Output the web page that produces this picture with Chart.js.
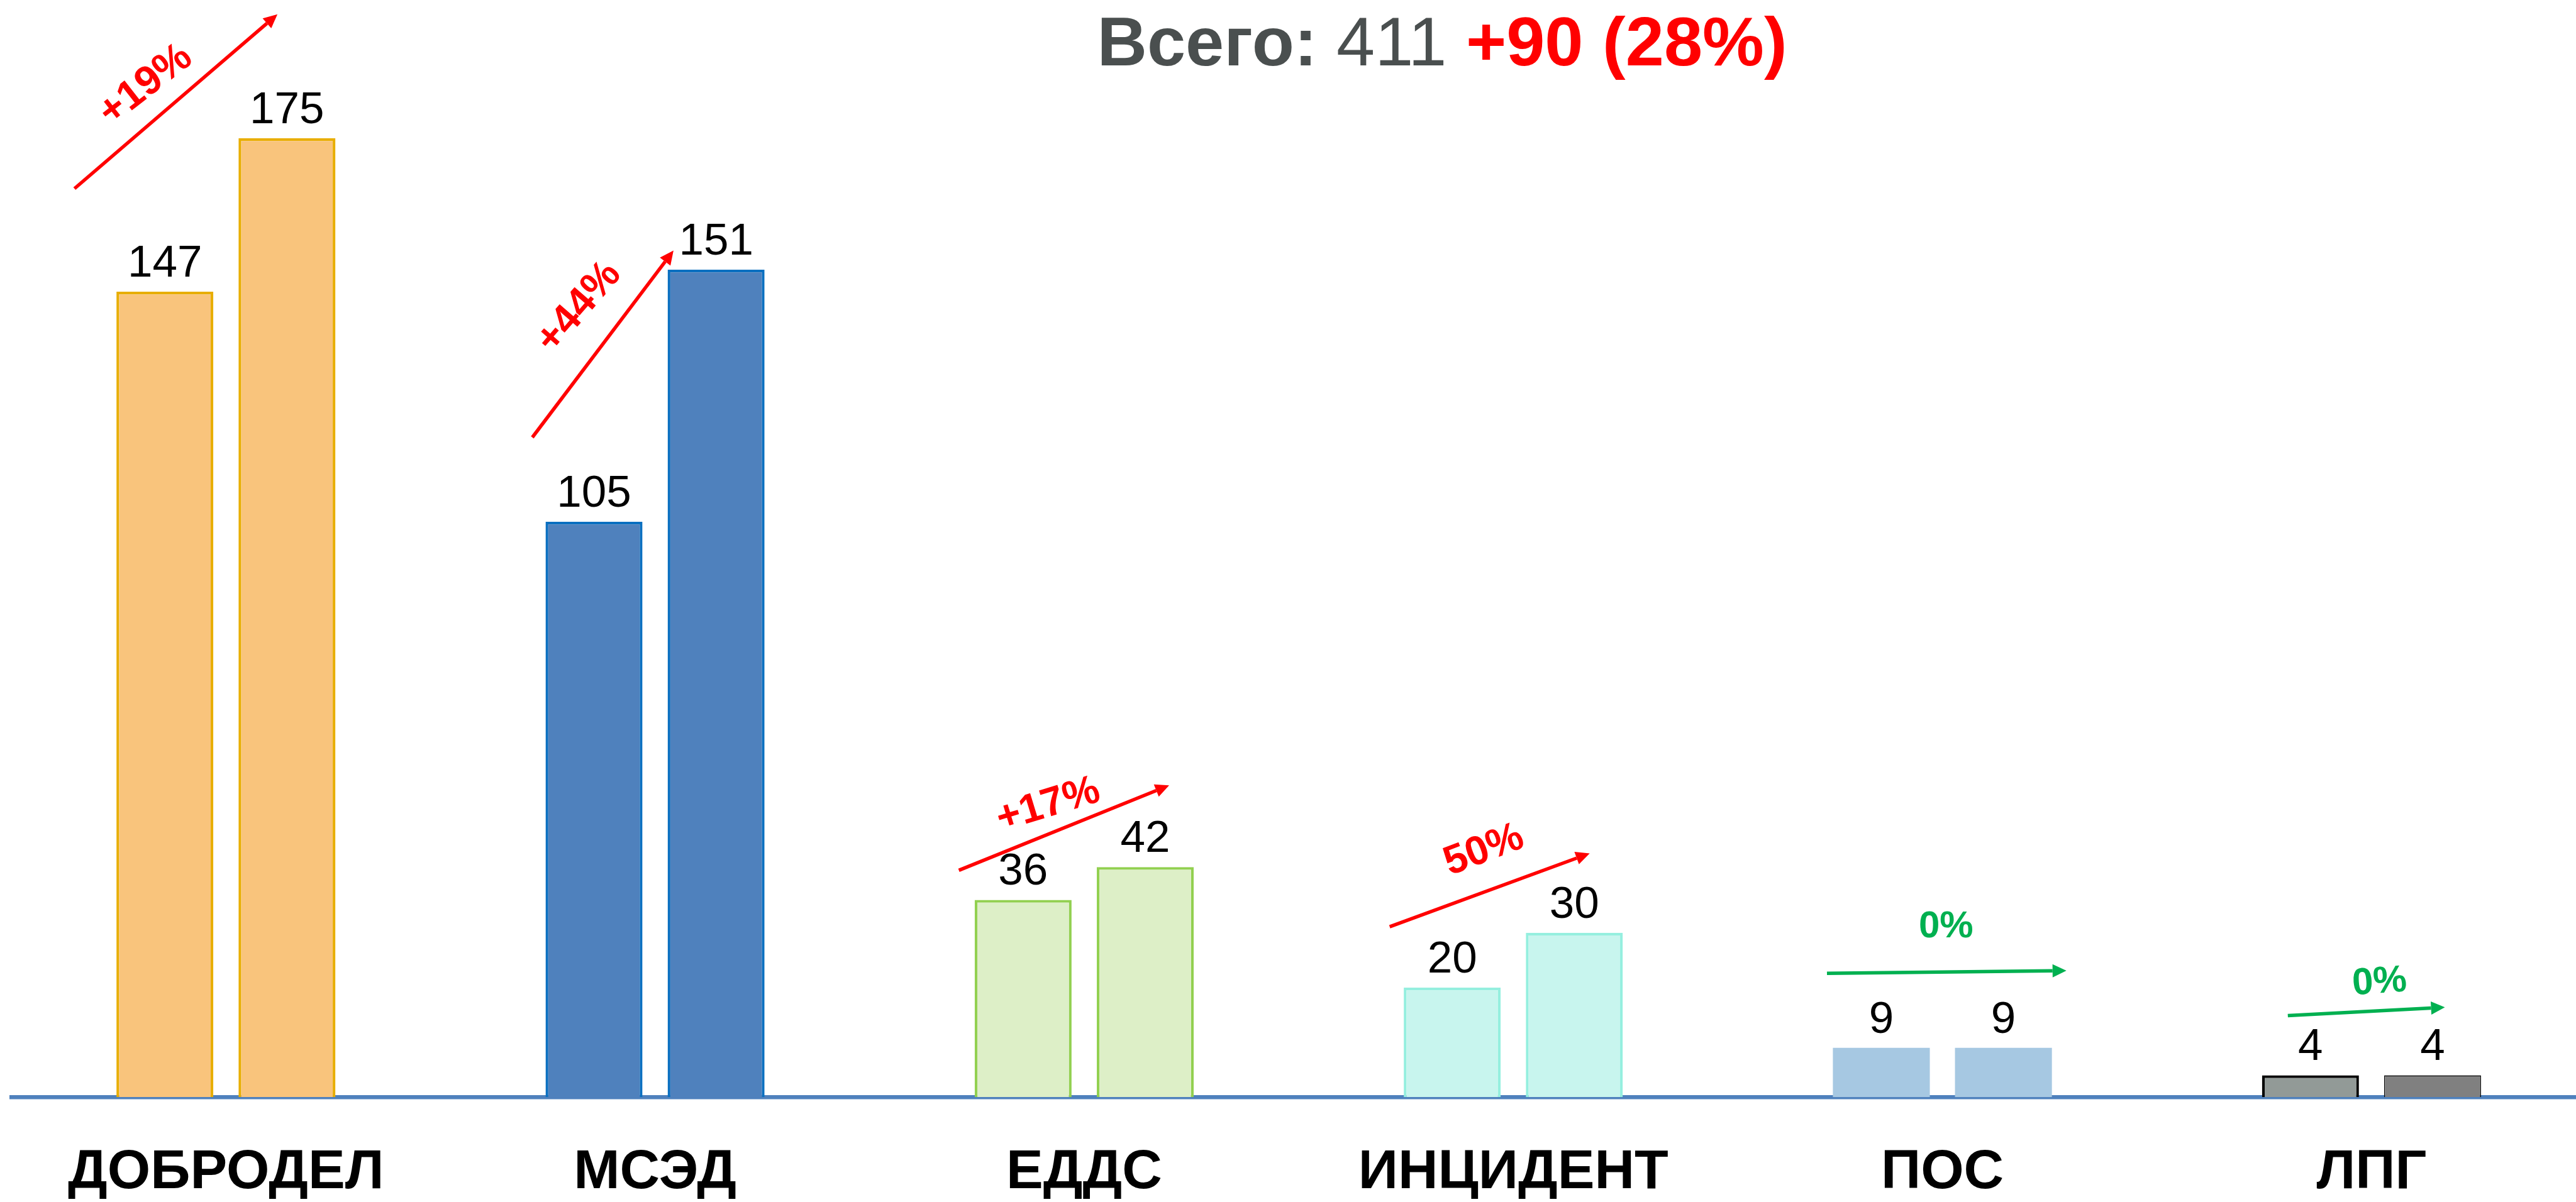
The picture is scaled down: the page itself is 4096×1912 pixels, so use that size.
<!DOCTYPE html>
<html lang="ru">
<head>
<meta charset="utf-8">
<title>Всего: 411 +90 (28%)</title>
<script src="https://cdn.jsdelivr.net/npm/chart.js@4.4.1/dist/chart.umd.min.js"></script>
<style>
  html, body { margin: 0; padding: 0; background: #fff; overflow: hidden; }
  canvas { display: block; }
</style>
</head>
<body>
<!-- canvas a bit wider than the window: the last category runs past the right edge, as in the source -->
<canvas id="growthChart" width="4112" height="1912"></canvas>
<script>
const categories = ['ДОБРОДЕЛ', 'МСЭД', 'ЕДДС', 'ИНЦИДЕНТ', 'ПОС', 'ЛПГ'];
const previousValues = [147, 105, 36, 20, 9, 4];
const currentValues = [175, 151, 42, 30, 9, 4];
const growthLabels = ['+19%', '+44%', '+17%', '50%', '0%', '0%'];
const totalLabel = 'Всего:';
const totalValue = '411';
const totalGrowth = '+90 (28%)';

const fillPrev = ['#f9c47c', '#4f81bd', '#ddefc7', '#c8f5ee', '#a6c8e2', '#929a97'];
const fillCurr = ['#f9c47c', '#4f81bd', '#ddefc7', '#c8f5ee', '#a6c8e2', '#808080'];
const borderColors = ['#e8ae00', '#0a6fc0', '#92d050', '#95efdf', '#a6c8e2', '#000000'];

// arrow ends: offset from category centre (share of category width), value on y scale
// text: label offset from arrow middle in px, angle in degrees
const arrows = [
    { from: [-0.353, 165.8], to: [0.120, 197.6], color: '#ff0000', text: [-48, -26], angle: -38 },
    { from: [-0.286, 120.4], to: [0.043, 154.5], color: '#ff0000', text: [-38, -58], angle: -49 },
    { from: [-0.292, 41.4], to: [0.198, 56.9], color: '#ff0000', text: [-25, -36], angle: -17 },
    { from: [-0.288, 31.1], to: [0.178, 44.5], color: '#ff0000', text: [-9, -63], angle: -21 },
    { from: [-0.269, 22.6], to: [0.289, 23.1], color: '#00b050', text: [-1, -72], angle: 0 },
    { from: [-0.195, 14.9], to: [0.171, 16.4], color: '#00b050', text: [21, -46], angle: -4 }
];

const FONT = '"Liberation Sans", Arial, sans-serif';
Chart.defaults.font.family = FONT;

const valueLabels = {
    id: 'valueLabels',
    afterDatasetsDraw(chart) {
        const ctx = chart.ctx;
        ctx.save();
        ctx.font = '71px ' + FONT;
        ctx.fillStyle = '#000';
        ctx.textAlign = 'center';
        ctx.textBaseline = 'alphabetic';
        chart.data.datasets.forEach((ds, di) => {
            chart.getDatasetMeta(di).data.forEach((bar, i) => {
                ctx.fillText(String(ds.data[i]), bar.x, bar.y - 24);
            });
        });
        ctx.restore();
    }
};

const growthArrows = {
    id: 'growthArrows',
    afterDatasetsDraw(chart) {
        const { ctx, scales: { x, y } } = chart;
        const step = x.getPixelForValue(1) - x.getPixelForValue(0);
        arrows.forEach((a, i) => {
            const cx = x.getPixelForValue(i);
            const x0 = cx + a.from[0] * step, y0 = y.getPixelForValue(a.from[1]);
            const x1 = cx + a.to[0] * step, y1 = y.getPixelForValue(a.to[1]);
            const ang = Math.atan2(y1 - y0, x1 - x0);
            const head = 22, half = 10.5;
            const bx = x1 - head * Math.cos(ang), by = y1 - head * Math.sin(ang);
            ctx.save();
            ctx.strokeStyle = a.color;
            ctx.fillStyle = a.color;
            ctx.lineWidth = 5.5;
            ctx.beginPath();
            ctx.moveTo(x0, y0);
            ctx.lineTo(bx, by);
            ctx.stroke();
            ctx.beginPath();
            ctx.moveTo(x1, y1);
            ctx.lineTo(bx + half * Math.sin(ang), by - half * Math.cos(ang));
            ctx.lineTo(bx - half * Math.sin(ang), by + half * Math.cos(ang));
            ctx.closePath();
            ctx.fill();
            ctx.translate((x0 + x1) / 2 + a.text[0], (y0 + y1) / 2 + a.text[1]);
            ctx.rotate(a.angle * Math.PI / 180);
            ctx.font = 'bold ' + (a.color === '#00b050' ? 60 : 65) + 'px ' + FONT;
            ctx.textAlign = 'center';
            ctx.textBaseline = 'middle';
            ctx.fillText(growthLabels[i], 0, 0);
            ctx.restore();
        });
    }
};

const totalTitle = {
    id: 'totalTitle',
    afterDraw(chart) {
        const ctx = chart.ctx;
        const parts = [
            { text: totalLabel + ' ', font: 'bold 110px ' + FONT, color: '#4a4f4f' },
            { text: totalValue + ' ', font: '110px ' + FONT, color: '#4a4f4f' },
            { text: totalGrowth, font: 'bold 110px ' + FONT, color: '#ff0000' }
        ];
        ctx.save();
        ctx.textBaseline = 'alphabetic';
        ctx.textAlign = 'left';
        let total = 0;
        parts.forEach(p => { ctx.font = p.font; p.w = ctx.measureText(p.text).width; total += p.w; });
        let xPos = 2293 - total / 2;
        parts.forEach(p => {
            ctx.font = p.font;
            ctx.fillStyle = p.color;
            ctx.fillText(p.text, xPos, 104);
            xPos += p.w;
        });
        ctx.restore();
    }
};

const ctx = document.getElementById('growthChart').getContext('2d');
const growthChart = new Chart(ctx, {
    type: 'bar',
    data: {
        labels: categories,
        datasets: [
            {
                label: 'Было',
                data: previousValues,
                backgroundColor: fillPrev,
                borderColor: borderColors,
                borderWidth: [4.3, 4.3, 4.3, 4.3, 0, 4.3]
            },
            {
                label: 'Стало',
                data: currentValues,
                backgroundColor: fillCurr,
                borderColor: borderColors,
                borderWidth: [4.3, 4.3, 4.3, 4.3, 0, 1.5]
            }
        ]
    },
    options: {
        responsive: false,
        animation: false,
        devicePixelRatio: 1,
        categoryPercentage: 0.569,
        barPercentage: 0.794,
        layout: {
            padding: { top: 1.9, left: 18.1, right: 0, bottom: 0 }
        },
        scales: {
            y: {
                display: false,
                min: 0,
                max: 200
            },
            x: {
                z: 1,
                grid: { display: false, drawTicks: false },
                border: { display: true, color: '#4f81bd', width: 6.6 },
                ticks: {
                    color: '#000',
                    padding: 76,
                    maxRotation: 0,
                    autoSkip: false,
                    font: { size: 88, weight: 'bold', lineHeight: 1 }
                },
                afterFit(scale) {
                    scale.height = 166.7;
                }
            }
        },
        plugins: {
            legend: { display: false },
            tooltip: { enabled: false },
            title: { display: false }
        }
    },
    plugins: [valueLabels, growthArrows, totalTitle]
});
</script>
</body>
</html>
